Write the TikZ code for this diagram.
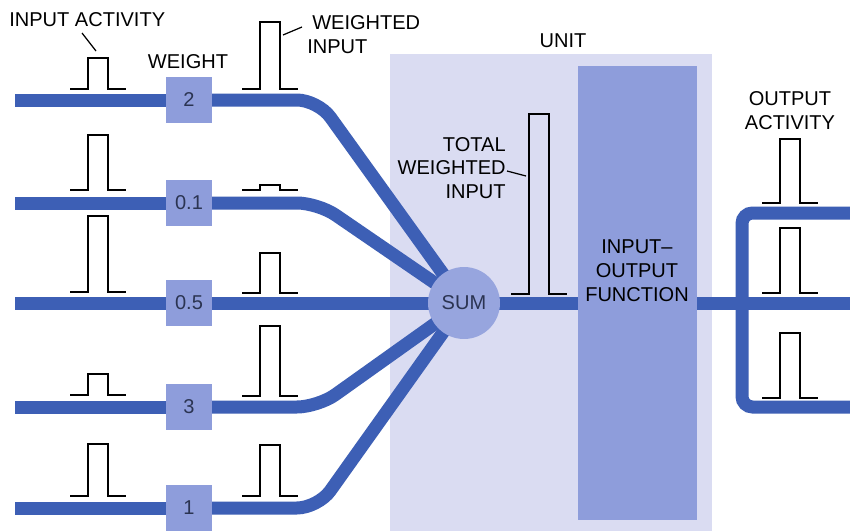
\documentclass[tikz,border=0pt]{standalone}
\usepackage{fontspec}
\setmainfont{Liberation Sans}
\usetikzlibrary{positioning}

\definecolor{axonblue}{HTML}{3D5FB5}
\definecolor{unitbg}{HTML}{DADCF2}
\definecolor{boxblue}{HTML}{8E9DDB}
\definecolor{numtext}{HTML}{2B3452}

\pgfdeclarelayer{back}
\pgfdeclarelayer{wires}
\pgfsetlayers{back,wires,main}

% one pulse: flat, up, across, down, flat
\newcommand{\pulse}[3]{\draw[pulse] (#1,#2) -- ++(18,0) -- ++(0,-#3) -- ++(20,0) -- ++(0,#3) -- ++(18,0);}

\begin{document}
\begin{tikzpicture}[x=0.02cm, y=-0.02cm,
  every node/.style={font=\fontsize{11.4}{13.6}\selectfont, inner sep=0pt},
  axon/.style={draw=axonblue, line width=7.4pt, rounded corners=12pt},
  wbox/.style={fill=boxblue, minimum width=0.92cm, minimum height=0.94cm, text=numtext},
  pulse/.style={black, line width=1.1pt},
  leader/.style={black, line width=0.7pt}]
\useasboundingbox (0,0) rectangle (850,531);

\begin{pgfonlayer}{back}
\fill[white] (0,0) rectangle (850,531);
\fill[unitbg] (390,54) rectangle (712,531);
\end{pgfonlayer}

% weights
\node[wbox] (w1) at (189,100) {2};
\node[wbox] (w2) at (189,203) {0.1};
\node[wbox] (w3) at (189,303) {0.5};
\node[wbox] (w4) at (189,407) {3};
\node[wbox] (w5) at (189,508) {1};

% unit
\node[circle, fill=boxblue!92!white, minimum size=1.44cm, text=numtext] (sum) at (464,303) {SUM};
\node[fill=boxblue, minimum width=2.38cm, minimum height=9.08cm] (iofn) at (637.5,293) {};
\node[align=center] (iotext) at (637,271) {INPUT--\\OUTPUT\\FUNCTION};

\coordinate (in1) at (15,100);
\coordinate (in2) at (15,203);
\coordinate (in3) at (15,303);
\coordinate (in4) at (15,407);
\coordinate (in5) at (15,508);
\coordinate (b1) at (318,100);
\coordinate (b2) at (318,203);
\coordinate (b4) at (318,407);
\coordinate (b5) at (318,508);
\coordinate (o1) at (850,213);
\coordinate (o2) at (850,303);
\coordinate (o3) at (850,407);
\coordinate (c1) at (742,213);
\coordinate (c3) at (742,407);

\begin{pgfonlayer}{wires}
\draw[axon] (in1) -- (w1.center);
\draw[axon] (in2) -- (w2.center);
\draw[axon] (in3) -- (w3.center);
\draw[axon] (in4) -- (w4.center);
\draw[axon] (in5) -- (w5.center);
\draw[axon] (w1.center) -- (b1) -- (sum.center);
\draw[axon] (w2.center) -- (b2) -- (sum.center);
\draw[axon] (w3.center) -- (sum.center);
\draw[axon] (w4.center) -- (b4) -- (sum.center);
\draw[axon] (w5.center) -- (b5) -- (sum.center);
\draw[axon] (sum.center) -- (sum.center -| iofn.center);
\draw[axon] (sum.center -| iofn.center) -- (o2);
\draw[axon, rounded corners=6pt] (o1) -- (c1) -- (c3) -- (o3);
\end{pgfonlayer}

% input activity
\pulse{70}{89}{31}
\pulse{70}{190}{55}
\pulse{70}{292}{76}
\pulse{70}{395}{21}
\pulse{70}{496}{52}
% weighted input
\pulse{242}{89}{67}
\pulse{242}{190}{5}
\pulse{242}{293}{40}
\pulse{242}{396}{70}
\pulse{242}{496}{51}
% total and output
\pulse{511}{294}{180}
\pulse{762}{203}{64}
\pulse{762}{293}{65}
\pulse{762}{398}{65}

% labels
\node[anchor=west] (inact) at (9,20) {INPUT ACTIVITY};
\node (wlabel) at (188,62) {WEIGHT};
\node[anchor=west, align=left] (winput) at (307,35) {\hspace*{2.8pt}WEIGHTED\\INPUT};
\node (unitlbl) at (563,41) {UNIT};
\node[anchor=east, align=right] (twi) at (506,168) {TOTAL\\WEIGHTED\\INPUT};
\node[align=center] (outact) at (790,111) {OUTPUT\\ACTIVITY};

\coordinate (ia1) at (82,33);
\coordinate (ia2) at (96,51);
\coordinate (wi1) at (302,27);
\coordinate (wi2) at (283,35);
\coordinate (tw1) at (507,171);
\coordinate (tw2) at (526,176);
\draw[leader] (ia1) -- (ia2);
\draw[leader] (wi1) -- (wi2);
\draw[leader] (tw1) -- (tw2);
\end{tikzpicture}
\end{document}
